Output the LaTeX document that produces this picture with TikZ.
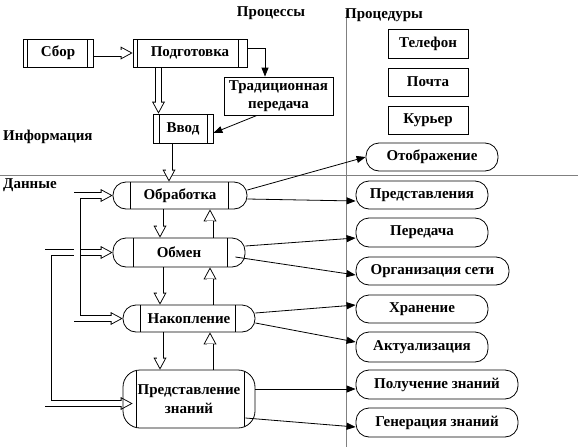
\documentclass[tikz,border=0pt]{standalone}
\usepackage{fontspec}
\setmainfont{Liberation Serif}
\usetikzlibrary{arrows.meta,backgrounds}
\newcommand\hollow[1]{\draw[holo] #1; \draw[holi] #1;}
\newcommand\hollowtwo[1]{\draw[holoo] #1; \draw[holii] #1;}
\begin{document}
\begin{tikzpicture}[x=1pt, y=-1pt,
  font=\fontsize{15}{18.5}\selectfont\bfseries,
  bw/.style={line width=0.8pt},
  procbox/.style 2 args={draw, bw, inner sep=0pt, path picture={
     \draw[bw] ([xshift=#1]path picture bounding box.north west) -- ([xshift=#1]path picture bounding box.south west);
     \draw[bw] ([xshift=-#2]path picture bounding box.north east) -- ([xshift=-#2]path picture bounding box.south east);}},
  termbox/.style 2 args={procbox={#1}{#2}, rounded corners=13pt},
  plainbox/.style={draw, bw, inner sep=0pt},
  pill/.style={draw, bw, rounded corners=13pt, inner sep=0pt, minimum height=28pt},
  txt/.style={inner sep=0pt},
  sepline/.style={line width=0.8pt, draw=black!50},
  conn/.style={bw, -{Triangle[length=9pt,width=7pt]}},
  holo/.style={line width=7pt, -{Triangle[length=12pt,width=13pt,line width=0pt]}},
  holi/.style={draw=white, line width=5.2pt, shorten >=1.9pt, -{Triangle[length=9.2pt,width=10pt,line width=0pt]}},
  holoo/.style={line width=7pt, {Triangle[length=12pt,width=13pt,line width=0pt]}-{Triangle[length=12pt,width=13pt,line width=0pt]}},
  holii/.style={draw=white, line width=5.2pt, shorten >=1.9pt, shorten <=1.9pt, {Triangle[length=9.2pt,width=10pt,line width=0pt]}-{Triangle[length=9.2pt,width=10pt,line width=0pt]}}
]
\useasboundingbox (0,0) rectangle (581,447);

% labels
\node[txt] (proc) at (271,13) {Процессы};
\node[txt, anchor=west] (procd) at (345,15) {Процедуры};
\node[txt, anchor=west] (info) at (3,137) {Информация};
\node[txt, anchor=west] (dann) at (3,185) {Данные};

% top boxes
\node[procbox={4pt}{6pt}, minimum width=70pt, minimum height=28pt] (sbor) at (58,53) {Сбор};
\node[procbox={4pt}{9pt}, minimum width=114pt, minimum height=28pt] (podg) at (190,53) {Подготовка};
\node[plainbox, align=center, minimum width=109pt, minimum height=38pt] (trad) at (278.5,96) {Традиционная\\передача};
\node[procbox={6pt}{6pt}, minimum width=60pt, minimum height=29pt] (vvod) at (183,128.5) {Ввод};

% right top boxes
\node[plainbox, minimum width=80pt, minimum height=29pt] (tel) at (428,43.5) {Телефон};
\node[plainbox, minimum width=80pt, minimum height=28pt] (pocht) at (428,82) {Почта};
\node[plainbox, minimum width=80pt, minimum height=28pt] (kur) at (428,120) {Курьер};
\node[pill, minimum width=132pt] (otob) at (432,157) {Отображение};

% middle column
\node[termbox={17pt}{19pt}, minimum width=134pt, minimum height=27pt] (obr) at (180,195.5) {Обработка};
\node[termbox={20pt}{18pt}, minimum width=132pt, minimum height=29pt] (obm) at (179,252.5) {Обмен};
\node[termbox={17pt}{20pt}, minimum width=132pt, minimum height=27pt] (nak) at (189,318.5) {Накопление};
\node[termbox={13pt}{11pt}, rounded corners=17pt, align=center, minimum width=132pt, minimum height=58pt] (pz) at (189,399) {Представление\\знаний};

% right column
\node[pill, minimum width=132pt] (pred) at (422,195) {Представления};
\node[pill, minimum width=132pt, minimum height=29pt] (pered) at (422,232.5) {Передача};
\node[pill, minimum width=153pt] (org) at (432.5,271) {Организация сети};
\node[pill, minimum width=132pt] (hran) at (422,309) {Хранение};
\node[pill, minimum width=132pt, minimum height=30pt] (akt) at (422,347) {Актуализация};
\node[pill, minimum width=162pt, minimum height=29pt] (polz) at (437,384.5) {Получение знаний};
\node[pill, minimum width=162pt, minimum height=29pt] (gen) at (437,422.5) {Генерация знаний};

\coordinate (b1a) at (77,195.5);
\coordinate (b1b) at (77,318.5);
\coordinate (b2a) at (48,252.5);
\coordinate (b2b) at (48,403.5);

\begin{pgfonlayer}{background}
\draw[sepline] (0,175) -- (578,175);
\draw[sepline] (346,10) -- (346,447);
\hollow{(sbor.east) -- (podg.west)}
\hollow{([xshift=-31.5pt]podg.south) -- ([xshift=-24.5pt]vvod.north)}
\hollow{([xshift=-14pt]vvod.south) -- ([xshift=-11pt]obr.north)}
\hollow{([xshift=-20pt]obr.south) -- ([xshift=-19pt]obm.north)}
\hollow{([xshift=31pt]obm.north) -- ([xshift=30pt]obr.south)}
\hollow{([xshift=-19pt]obm.south) -- ([xshift=-29pt]nak.north)}
\hollow{([xshift=21pt]nak.north) -- ([xshift=31pt]obm.south)}
\hollow{([xshift=-29pt]nak.south) -- ([xshift=-29pt]pz.north)}
\hollow{([xshift=21pt]pz.north) -- ([xshift=21pt]nak.south)}
\hollowtwo{(obm.west) -- (b2a) -- (b2b) -- ([xshift=10pt,yshift=-4.5pt]pz.west)}
\hollowtwo{(obr.west) -- (b1a) -- (b1b) -- (nak.west)}
\end{pgfonlayer}

% thin connectors
\draw[conn] ([yshift=5pt]podg.east) -| ([xshift=-13.5pt]trad.north);
\draw[conn] ([xshift=-21.5pt]trad.south) -- ([yshift=-4.5pt]vvod.east);
\draw[conn] ([yshift=5.5pt]obr.east) -- (otob.west);
\draw[conn] ([yshift=-3.5pt]obr.east) -- ([yshift=-6pt]pred.west);
\draw[conn] ([yshift=6.5pt]obm.east) -- ([yshift=-5.5pt]pered.west);
\draw[conn] ([xshift=-10pt,yshift=-4.5pt]obm.east) -- ([yshift=-4pt]org.west);
\draw[conn] ([yshift=5.5pt]nak.east) -- ([yshift=4pt]hran.west);
\draw[conn] ([yshift=-4.5pt]nak.east) -- ([yshift=5pt]akt.west);
\draw[conn] ([yshift=10pt]pz.east) -- ([yshift=-4.5pt]polz.west);
\draw[conn] ([xshift=-10pt,yshift=-19pt]pz.east) -- ([yshift=-4.5pt]gen.west);
\end{tikzpicture}
\end{document}
